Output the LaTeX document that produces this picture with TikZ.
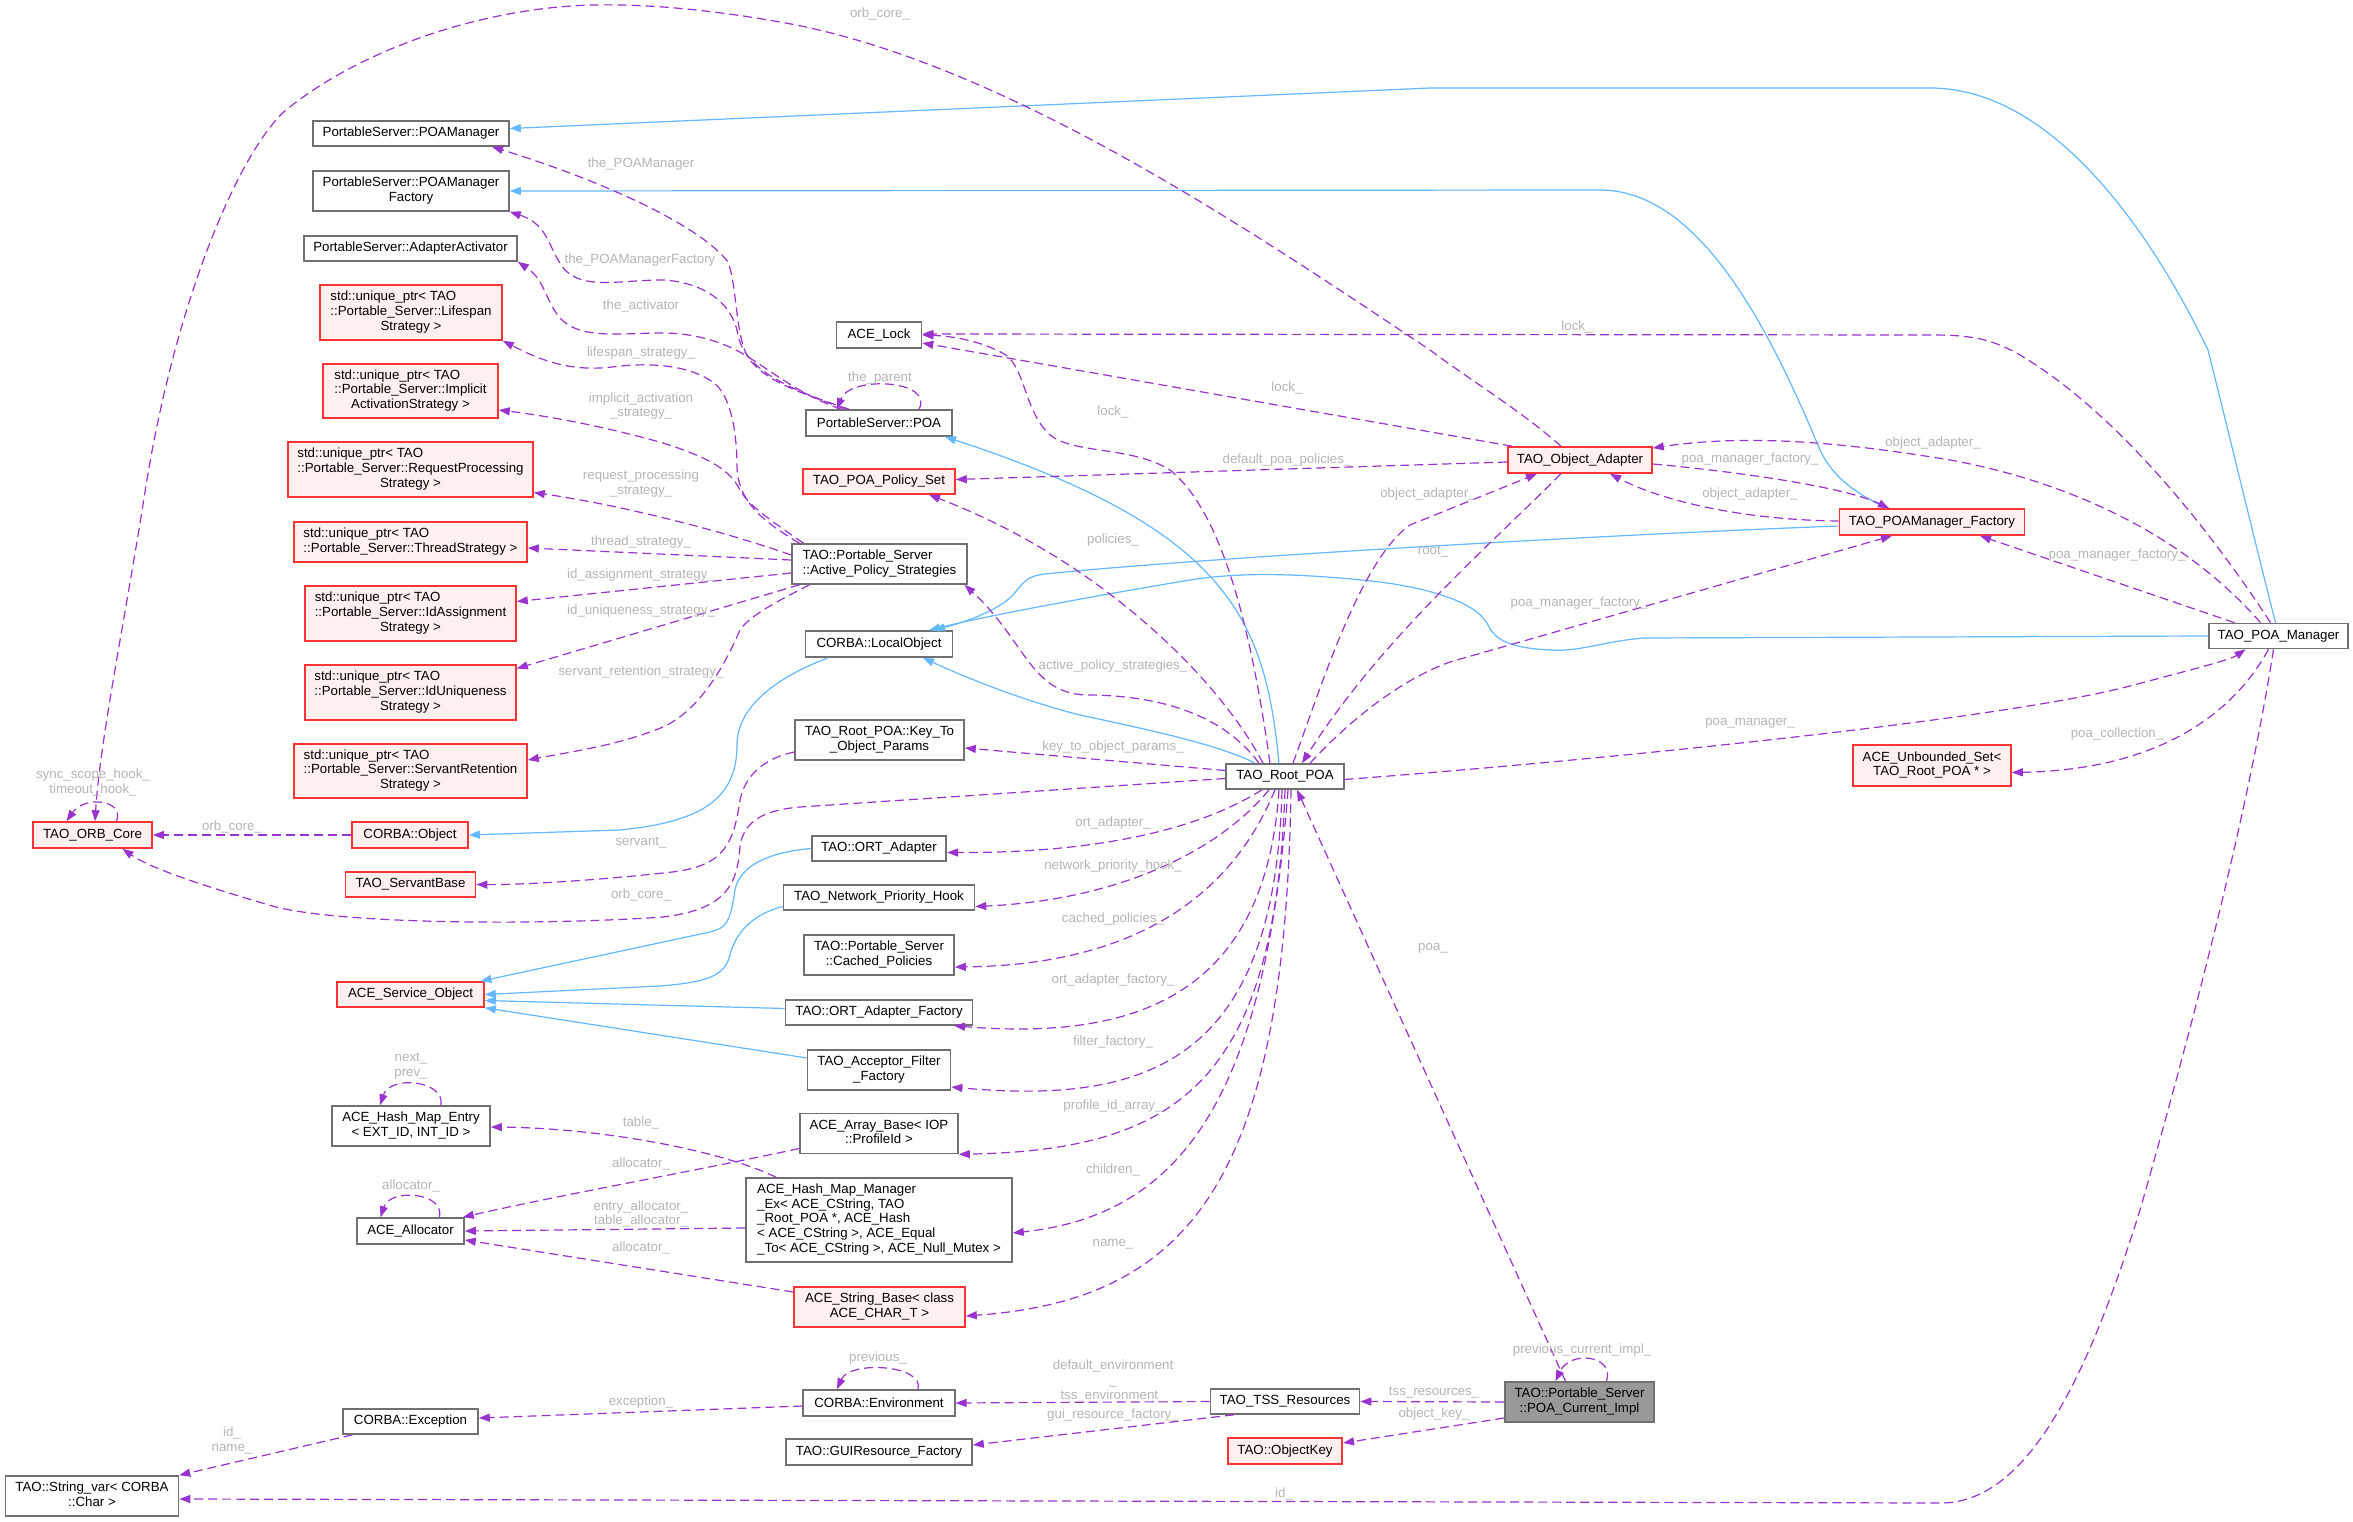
\documentclass[tikz,border=0pt]{standalone}
\usepackage{fontspec}
\setmainfont{Liberation Sans}
\usetikzlibrary{arrows.meta}
\definecolor{deppurple}{HTML}{9A32CD}
\definecolor{inhblue}{HTML}{63B8FF}
\definecolor{boxgray}{HTML}{707070}
\definecolor{boxred}{HTML}{FF3333}
\definecolor{boxpink}{HTML}{FFF0F0}
\definecolor{boxmain}{HTML}{999999}
\definecolor{lblgray}{HTML}{B5B5B5}
\newcommand{\nodefont}{\fontsize{13.3}{14.7}\selectfont}
\newcommand{\dlines}[2]{\begin{tabular}{@{}l@{}}#1\\\multicolumn{1}{@{}c@{}}{#2}\end{tabular}}
\tikzset{
  cls/.style={draw=boxgray, fill=white, line width=1.6pt, inner sep=0pt, align=center, font=\nodefont},
  redcls/.style={cls, draw=boxred, fill=boxpink},
  maincls/.style={cls, fill=boxmain},
  wh/.style 2 args={minimum width=#1pt, minimum height=#2pt},
  lbl/.style={text=lblgray, inner sep=0pt, align=center, font=\nodefont},
  dep/.style={draw=deppurple, line width=1.2pt, dash pattern=on 9pt off 5pt, -{Triangle[length=11pt,width=8pt]}},
  inh/.style={draw=inhblue, line width=1.2pt, -{Triangle[length=11pt,width=8pt]}},
}
\begin{document}
\begin{tikzpicture}[x=1pt,y=-1pt]
\fill[white] (0,0) rectangle (2353,1522);

% classes, left column
\node[cls, wh={196}{25}] (pmgr) at (411,133.5) {PortableServer::POAManager};
\node[cls, wh={196}{40}] (pmgrf) at (411,191) {\dlines{PortableServer::POAManager}{Factory}};
\node[cls, wh={213}{25}] (act) at (410.5,248.5) {PortableServer::AdapterActivator};
\node[redcls, wh={182}{55}] (lifes) at (411,312.5) {\dlines{std::unique\_ptr< TAO\\::Portable\_Server::Lifespan}{Strategy >}};
\node[redcls, wh={175}{54}] (implic) at (410.5,391) {\dlines{std::unique\_ptr< TAO\\::Portable\_Server::Implicit}{ActivationStrategy >}};
\node[redcls, wh={245}{55}] (reqp) at (410.5,469.5) {\dlines{std::unique\_ptr< TAO\\::Portable\_Server::RequestProcessing}{Strategy >}};
\node[redcls, wh={233}{40}] (thread) at (410.5,542) {\dlines{std::unique\_ptr< TAO}{::Portable\_Server::ThreadStrategy >}};
\node[redcls, wh={211}{55}] (idass) at (410.5,613.5) {\dlines{std::unique\_ptr< TAO\\::Portable\_Server::IdAssignment}{Strategy >}};
\node[redcls, wh={211}{55}] (iduniq) at (410.5,692.5) {\dlines{std::unique\_ptr< TAO\\::Portable\_Server::IdUniqueness}{Strategy >}};
\node[redcls, wh={233}{54}] (servret) at (410.5,771) {\dlines{std::unique\_ptr< TAO\\::Portable\_Server::ServantRetention}{Strategy >}};
\node[redcls, wh={119}{26}] (orbcore) at (92.5,835) {TAO\_ORB\_Core};
\node[redcls, wh={116}{26}] (cobj) at (410,835) {CORBA::Object};
\node[redcls, wh={130}{25}] (servb) at (410.5,884.5) {TAO\_ServantBase};
\node[redcls, wh={147}{25}] (svcobj) at (410.5,994.5) {ACE\_Service\_Object};
\node[cls, wh={158}{40}] (hentry) at (411,1126) {\dlines{ACE\_Hash\_Map\_Entry}{< EXT\_ID, INT\_ID >}};
\node[cls, wh={107}{26}] (alloc) at (410.5,1231) {ACE\_Allocator};
\node[cls, wh={135}{25}] (cexc) at (410.5,1421.5) {CORBA::Exception};
\node[cls, wh={173}{40}] (strvar) at (92,1496) {\dlines{TAO::String\_var< CORBA}{::Char >}};

% classes, middle column
\node[cls, wh={85}{26}] (lock) at (879,335) {ACE\_Lock};
\node[cls, wh={146}{26}] (poa) at (879,423) {PortableServer::POA};
\node[redcls, wh={152}{25}] (polset) at (879,481.5) {TAO\_POA\_Policy\_Set};
\node[cls, wh={175}{40}] (aps) at (879.5,564) {\dlines{TAO::Portable\_Server}{::Active\_Policy\_Strategies}};
\node[cls, wh={147}{26}] (lobj) at (879,644) {CORBA::LocalObject};
\node[cls, wh={169}{40}] (keyto) at (879.5,740) {\dlines{TAO\_Root\_POA::Key\_To}{\_Object\_Params}};
\node[cls, wh={134.5}{25}] (ortad) at (879,848.5) {TAO::ORT\_Adapter};
\node[cls, wh={191}{25}] (nethook) at (879,897.5) {TAO\_Network\_Priority\_Hook};
\node[cls, wh={150}{40}] (cached) at (879,955) {\dlines{TAO::Portable\_Server}{::Cached\_Policies}};
\node[cls, wh={187}{25}] (ortfac) at (879,1012.5) {TAO::ORT\_Adapter\_Factory};
\node[cls, wh={143}{40}] (filtfac) at (879,1070) {\dlines{TAO\_Acceptor\_Filter}{\_Factory}};
\node[cls, wh={158}{40}] (arrbase) at (879,1133.5) {\dlines{ACE\_Array\_Base< IOP}{::ProfileId >}};
\node[cls, wh={266}{84}] (hmgr) at (879,1220) {\dlines{ACE\_Hash\_Map\_Manager\\\_Ex< ACE\_CString, TAO\\\_Root\_POA *, ACE\_Hash\\< ACE\_CString >, ACE\_Equal}{\_To< ACE\_CString >, ACE\_Null\_Mutex >}};
\node[redcls, wh={171}{40}] (strbase) at (879.5,1307) {\dlines{ACE\_String\_Base< class}{ACE\_CHAR\_T >}};
\node[cls, wh={151.5}{26}] (cenv) at (879,1403) {CORBA::Environment};
\node[cls, wh={186}{26}] (guif) at (879,1452) {TAO::GUIResource\_Factory};

% classes, right part
\node[cls, wh={117.5}{25}] (rootpoa) at (1285,776.5) {TAO\_Root\_POA};
\node[cls, wh={149}{25}] (tss) at (1285,1401.5) {TAO\_TSS\_Resources};
\node[redcls, wh={114.5}{26}] (okey) at (1285,1451) {TAO::ObjectKey};
\node[maincls, wh={149}{40}] (cur) at (1579.5,1402) {\dlines{TAO::Portable\_Server}{::POA\_Current\_Impl}};
\node[redcls, wh={144}{26}] (oadapt) at (1580,460) {TAO\_Object\_Adapter};
\node[redcls, wh={185}{26}] (pmfac) at (1932,522) {TAO\_POAManager\_Factory};
\node[cls, wh={139}{25}] (pmanager) at (2278.5,636) {TAO\_POA\_Manager};
\node[redcls, wh={158}{41}] (uset) at (1932,765.5) {\dlines{ACE\_Unbounded\_Set<}{TAO\_Root\_POA * >}};

% inheritance
\draw[inh] ([xshift=-3pt]pmanager.north) .. controls (2252,530) and (2228,430) .. (2208,350) .. controls (2160,250) and (2060,88) .. (1930,88) -- (1430,88) -- ([yshift=5pt]pmgr.east);
\draw[inh] ([xshift=-46pt]pmfac.north) .. controls (1850,490) and (1832,475) .. (1820,450) .. controls (1770,330) and (1700,190) .. (1600,190) -- (pmgrf.east);
\draw[inh] ([xshift=-6pt]rootpoa.north) .. controls (1265,620) and (1230,530) .. ([xshift=66pt]poa.south);
\draw[inh] ([xshift=-30pt]rootpoa.north) .. controls (1220,745) and (1150,730) .. (1080,715) .. controls (1020,700) and (960,675) .. ([xshift=44pt]lobj.south);
\draw[inh] ([yshift=-4pt]pmfac.west) .. controls (1600,535) and (1200,558) .. (1045,574) .. controls (1025,576) and (1022,585) .. (1012,596) .. controls (995,612) and (965,622) .. ([xshift=55pt]lobj.north);
\draw[inh] (pmanager.west) -- (1643,638) .. controls (1600,642) and (1580,652) .. (1550,650) .. controls (1510,648) and (1495,640) .. (1488,625) .. controls (1478,605) and (1440,590) .. (1380,582) .. controls (1300,573) and (1240,572) .. (1190,580) .. controls (1100,595) and (990,615) .. ([xshift=50pt]lobj.north);
\draw[inh] ([xshift=-51pt]lobj.south) .. controls (770,680) and (737,710) .. (737,745) .. controls (737,800) and (700,822) .. (620,830) -- (cobj.east);
\draw[inh] (ortad.west) .. controls (770,852) and (740,865) .. (735,890) .. controls (730,925) and (725,928) .. (710,932) -- ([xshift=70pt]svcobj.north);
\draw[inh] ([yshift=-9pt]nethook.west) .. controls (750,915) and (735,935) .. (730,955) .. controls (725,975) and (710,982) .. (660,986) -- (svcobj.east);
\draw[inh] ([yshift=4pt]ortfac.west) -- ([yshift=-6pt]svcobj.east);
\draw[inh] ([yshift=12pt]filtfac.west) -- (svcobj.south east);

% members
\draw[dep] ([xshift=-19pt]oadapt.north) .. controls (1520,410) and (1470,380) .. (1430,350) .. controls (1250,230) and (1000,60) .. (780,22) .. controls (700,8) and (640,4) .. (592,5) .. controls (480,8) and (360,50) .. (286,110) .. controls (240,150) and (175,300) .. (145,492) .. controls (125,620) and (100,740) .. ([xshift=2.5pt]orbcore.north);
\draw[dep] ([xshift=24pt]orbcore.north) .. controls (125,800) and (85,795) .. ([xshift=-26pt]orbcore.north);
\draw[dep] (cobj.west) -- (orbcore.east);
\draw[dep] ([yshift=-2pt]rootpoa.west) -- (800,807) .. controls (765,810) and (745,820) .. (740,845) .. controls (738,890) and (720,910) .. (663,917) .. controls (550,925) and (350,925) .. (276,907) .. controls (200,885) and (150,868) .. ([xshift=30pt]orbcore.south);
\draw[dep] ([yshift=-12pt]keyto.west) .. controls (765,758) and (745,775) .. (740,800) .. controls (733,850) and (720,868) .. (663,873) .. controls (600,880) and (520,885) .. (servb.east);

\draw[dep] ([xshift=-8pt]pmanager.north) .. controls (2230,560) and (2130,420) .. (2020,355) .. controls (1990,338) and (1970,335) .. (1930,335) -- ([yshift=1pt]lock.east);
\draw[dep] ([xshift=-68pt]oadapt.north) -- ([yshift=-8pt]lock.east);
\draw[dep] ([xshift=-15pt]rootpoa.north) .. controls (1250,620) and (1220,510) .. (1170,470) .. controls (1130,445) and (1070,455) .. (1048,433) .. controls (1025,410) and (1025,370) .. (1006,355) .. controls (980,340) and (950,336) .. (lock.east);

\draw[dep] ([xshift=-34pt]poa.north) .. controls (810,395) and (770,385) .. (750,360) .. controls (735,340) and (738,290) .. (728,262) .. controls (700,225) and (600,180) .. ([xshift=81pt]pmgr.south);
\draw[dep] ([xshift=-30pt]poa.north) .. controls (790,390) and (745,370) .. (738,335) .. controls (732,300) and (700,282) .. (663,280) .. controls (620,280) and (585,290) .. (565,270) .. controls (548,250) and (550,225) .. (pmgrf.south east);
\draw[dep] ([xshift=-38pt]poa.north) .. controls (800,395) and (770,370) .. (745,355) .. controls (720,340) and (690,333) .. (663,333) .. controls (620,333) and (580,340) .. (560,318) .. controls (545,300) and (545,280) .. (act.south east);
\draw[dep] ([xshift=40pt]poa.north) .. controls (935,380) and (850,375) .. ([xshift=-42pt]poa.north);

\draw[dep] ([xshift=-80pt]aps.north) .. controls (760,520) and (738,500) .. (737,467) .. controls (737,430) and (730,395) .. (714,383) .. controls (690,365) and (650,362) .. (612,367) .. controls (570,372) and (540,360) .. (lifes.south east);
\draw[dep] ([xshift=-76pt]aps.north) .. controls (770,520) and (748,505) .. (740,490) .. controls (730,470) and (710,458) .. (663,443) .. controls (600,425) and (540,415) .. ([yshift=-19pt]implic.east);
\draw[dep] ([yshift=9pt]aps.west) .. controls (720,530) and (620,505) .. ([yshift=-23pt]reqp.east);
\draw[dep] ([yshift=4pt]aps.west) -- ([yshift=-6pt]thread.east);
\draw[dep] ([yshift=-9pt]aps.west) -- ([yshift=12pt]idass.east);
\draw[dep] ([xshift=-80pt]aps.south) -- ([yshift=24pt]iduniq.east);
\draw[dep] ([xshift=-70pt]aps.south) .. controls (780,600) and (750,615) .. (740,630) .. controls (725,665) and (700,710) .. (663,727) .. controls (620,745) and (570,752) .. ([yshift=11pt]servret.east);

\draw[dep] ([yshift=6pt]rootpoa.west) -- ([yshift=-8pt]keyto.east);
\draw[dep] ([xshift=-23pt]rootpoa.south) .. controls (1190,835) and (1080,853) .. ([yshift=-4pt]ortad.east);
\draw[dep] ([xshift=-16pt]rootpoa.south) .. controls (1220,850) and (1120,900) .. ([yshift=-9pt]nethook.east);
\draw[dep] ([xshift=-10pt]rootpoa.south) .. controls (1230,900) and (1130,965) .. ([yshift=-12pt]cached.east);
\draw[dep] ([xshift=-6pt]rootpoa.south) .. controls (1265,1000) and (1130,1040) .. ([xshift=75pt]ortfac.south);
\draw[dep] ([xshift=-3pt]rootpoa.south) .. controls (1275,1060) and (1150,1105) .. ([yshift=-17pt]filtfac.east);
\draw[dep] (rootpoa.south) .. controls (1275,1080) and (1180,1150) .. (arrbase.south east);
\draw[dep] ([xshift=3pt]rootpoa.south) .. controls (1265,1100) and (1180,1215) .. ([yshift=-13pt]hmgr.east);
\draw[dep] ([xshift=6pt]rootpoa.south) .. controls (1285,1180) and (1190,1300) .. ([yshift=-9pt]strbase.east);
\draw[dep] ([xshift=-22pt]rootpoa.north) .. controls (1220,680) and (1100,560) .. ([xshift=50pt]polset.south);
\draw[dep] ([xshift=-26pt]rootpoa.north) .. controls (1220,710) and (1150,695) .. (1086,695) .. controls (1030,693) and (1025,640) .. ([xshift=85pt]aps.south);

\draw[dep] ([yshift=-2pt]oadapt.west) -- ([yshift=2pt]polset.east);
\draw[dep] ([xshift=8pt]rootpoa.north) .. controls (1320,690) and (1360,560) .. (1410,525) -- ([xshift=-43pt]oadapt.south);
\draw[dep] ([xshift=-19pt]oadapt.south) .. controls (1490,545) and (1380,640) .. ([xshift=17pt]rootpoa.north);
\draw[dep] ([xshift=25pt]rootpoa.north) .. controls (1350,720) and (1400,680) .. (1450,662) -- ([xshift=-40pt]pmfac.south);
\draw[dep] ([yshift=-4pt]oadapt.east) .. controls (1720,470) and (1840,485) .. ([xshift=-43pt]pmfac.north);
\draw[dep] ([yshift=1pt]pmfac.west) .. controls (1740,520) and (1660,500) .. ([xshift=30pt]oadapt.south);
\draw[dep] ([xshift=-18pt]pmanager.north) .. controls (2180,530) and (2060,480) .. (1950,460) .. controls (1830,440) and (1740,435) .. ([yshift=12pt]oadapt.east);
\draw[dep] ([xshift=-44pt]pmanager.north) -- ([xshift=48pt]pmfac.south);
\draw[dep] ([yshift=-3pt]rootpoa.east) .. controls (1600,760) and (2000,720) .. (2130,686) .. controls (2190,670) and (2230,660) .. ([xshift=-33pt]pmanager.south);
\draw[dep] ([xshift=-10pt]pmanager.south) .. controls (2230,720) and (2150,770) .. ([yshift=-7pt]uset.east);
\draw[dep] ([xshift=-5pt]pmanager.south) .. controls (2250,800) and (2200,1000) .. (2140,1210) .. controls (2090,1370) and (2030,1503) .. (1941,1503) -- ([yshift=-3pt]strvar.east);

\draw[dep] ([xshift=-14pt]cur.north) -- ([xshift=12pt]rootpoa.south);
\draw[dep] ([xshift=27pt]cur.north) .. controls (1615,1355) and (1570,1350) .. ([xshift=-24pt]cur.north);
\draw[dep] (cur.west) -- (tss.east);
\draw[dep] ([yshift=-16pt]cur.west) -- ([yshift=8pt]okey.east);
\draw[dep] (tss.west) -- (cenv.east);
\draw[dep] ([xshift=-51pt]tss.south) -- ([yshift=7pt]guif.east);
\draw[dep] ([yshift=-3pt]cenv.west) -- ([yshift=3.5pt]cexc.east);
\draw[dep] ([xshift=39pt]cenv.north) .. controls (925,1365) and (850,1360) .. ([xshift=-42pt]cenv.north);
\draw[dep] ([xshift=-58pt]cexc.south) -- (strvar.north east);

\draw[dep] ([xshift=30pt]hentry.north) .. controls (445,1080) and (390,1075) .. ([xshift=-31pt]hentry.north);
\draw[dep] ([xshift=29pt]alloc.north) .. controls (445,1192) and (390,1188) .. ([xshift=-30pt]alloc.north);
\draw[dep] ([xshift=-103pt]hmgr.north) .. controls (720,1150) and (600,1128) .. ([yshift=-1pt]hentry.east);
\draw[dep] ([yshift=-15pt]arrbase.west) .. controls (700,1170) and (560,1195) .. ([xshift=-2pt]alloc.north east);
\draw[dep] ([yshift=-8pt]hmgr.west) -- (alloc.east);
\draw[dep] ([yshift=15pt]strbase.west) -- ([yshift=-9pt]alloc.east);

% member names
\node[lbl] (lorbtop) at (880,14) {orb\_core\_};
\node[lbl] (lthepm) at (641,164) {the\_POAManager};
\node[lbl] (lthepmf) at (640,260) {the\_POAManagerFactory};
\node[lbl] (lact) at (641,306) {the\_activator};
\node[lbl] (llife) at (641,353) {lifespan\_strategy\_};
\node[lbl] (limpl) at (641,406) {implicit\_activation\\\_strategy\_};
\node[lbl] (lreqp) at (641,483.5) {request\_processing\\\_strategy\_};
\node[lbl] (lthread) at (641,542) {thread\_strategy\_};
\node[lbl] (lidass) at (641,575) {id\_assignment\_strategy\_};
\node[lbl] (liduniq) at (641,611) {id\_uniqueness\_strategy\_};
\node[lbl] (lservret) at (641,672) {servant\_retention\_strategy\_};
\node[lbl] (lhooks) at (93,782.5) {sync\_scope\_hook\_\\timeout\_hook\_};
\node[lbl] (lorbobj) at (232,827) {orb\_core\_};
\node[lbl] (lservant) at (641,843) {servant\_};
\node[lbl] (lorbroot) at (641,895) {orb\_core\_};
\node[lbl] (lparent) at (880,378) {the\_parent};
\node[lbl] (llockpm) at (1577,327) {lock\_};
\node[lbl] (llockoa) at (1287,388) {lock\_};
\node[lbl] (llockroot) at (1113,412) {lock\_};
\node[lbl] (ldefpol) at (1287,460) {default\_poa\_policies\_};
\node[lbl] (lpolicies) at (1113,540) {policies\_};
\node[lbl] (lactpol) at (1113,666) {active\_policy\_strategies\_};
\node[lbl] (lkeyto) at (1113,747) {key\_to\_object\_params\_};
\node[lbl] (lortad) at (1113,823) {ort\_adapter\_};
\node[lbl] (lnethook) at (1113,866) {network\_priority\_hook\_};
\node[lbl] (lcached) at (1113,919) {cached\_policies\_};
\node[lbl] (lortfac) at (1113,980) {ort\_adapter\_factory\_};
\node[lbl] (lfiltfac) at (1113,1042) {filter\_factory\_};
\node[lbl] (lprofile) at (1113,1106) {profile\_id\_array\_};
\node[lbl] (lchildren) at (1113,1170) {children\_};
\node[lbl] (lname) at (1113,1244) {name\_};
\node[lbl] (loaroot) at (1428,494) {object\_adapter\_};
\node[lbl] (lroot) at (1433,552) {root\_};
\node[lbl] (lpmfroot) at (1579,603) {poa\_manager\_factory\_};
\node[lbl] (lpmfoa) at (1750,459) {poa\_manager\_factory\_};
\node[lbl] (loapmf) at (1750,494) {object\_adapter\_};
\node[lbl] (loapm) at (1933,443) {object\_adapter\_};
\node[lbl] (lpmfpm) at (2117,555.5) {poa\_manager\_factory\_};
\node[lbl] (lpm) at (1750,723) {poa\_manager\_};
\node[lbl] (lpcoll) at (2117,734) {poa\_collection\_};
\node[lbl] (lpoa) at (1433,948) {poa\_};
\node[lbl] (lprevcur) at (1582,1350) {previous\_current\_impl\_};
\node[lbl] (ltss) at (1434,1393) {tss\_resources\_};
\node[lbl] (lokey) at (1434,1414) {object\_key\_};
\node[lbl] (lenv) at (1113,1381) {default\_environment\\\_\\tss\_environment\_};
\node[lbl] (lgui) at (1113,1415) {gui\_resource\_factory\_};
\node[lbl] (lprev) at (878,1358) {previous\_};
\node[lbl] (lexc) at (641,1402) {exception\_};
\node[lbl] (lidname) at (232,1440.5) {id\_\\name\_};
\node[lbl] (lid) at (1284,1494) {id\_};
\node[lbl] (lnext) at (411,1066) {next\_\\prev\_};
\node[lbl] (lallocself) at (411,1186) {allocator\_};
\node[lbl] (ltable) at (641,1123) {table\_};
\node[lbl] (lallocarr) at (641,1164) {allocator\_};
\node[lbl] (lallocmgr) at (641,1214) {entry\_allocator\_\\table\_allocator\_};
\node[lbl] (lallocstr) at (641,1248) {allocator\_};
\end{tikzpicture}
\end{document}
